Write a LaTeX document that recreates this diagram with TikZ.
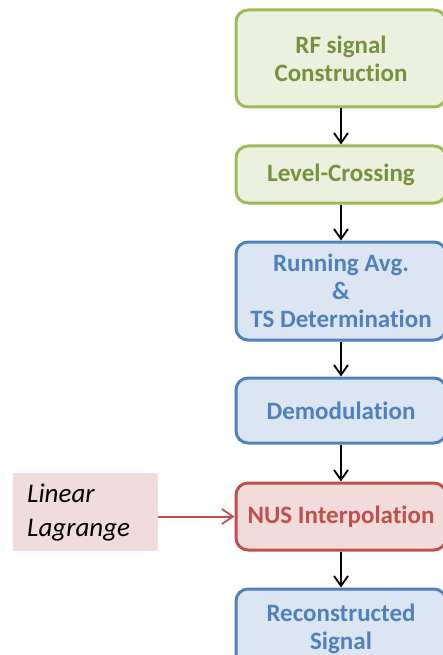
\documentclass[tikz,border=0pt]{standalone}
\usepackage{fontspec}
\setmainfont{Carlito}[Ligatures=NoCommon]
\usetikzlibrary{arrows.meta}
\definecolor{gbord}{HTML}{9BBB59}
\definecolor{gfill}{HTML}{EBF1DE}
\definecolor{gtext}{HTML}{76923C}
\definecolor{bbord}{HTML}{4F81BD}
\definecolor{bfill}{HTML}{DCE6F2}
\definecolor{btext}{HTML}{4F81BD}
\definecolor{rbord}{HTML}{C0504D}
\definecolor{rfill}{HTML}{F2DCDB}
\definecolor{rtext}{HTML}{C0504D}
\begin{document}
\begin{tikzpicture}[x=1pt,y=-1pt,
  box/.style={draw,line width=3pt,rounded corners=12pt,align=center,
    font=\fontsize{25}{28}\selectfont\bfseries,inner sep=0pt},
  gbox/.style={box,draw=gbord,fill=gfill,text=gtext},
  bbox/.style={box,draw=bbord,fill=bfill,text=btext},
  rbox/.style={box,draw=rbord,fill=rfill,text=rtext},
  arr/.style={-{Straight Barb[length=10pt,width=14pt,line width=1.8pt]},line width=2.2pt,black},
  rarr/.style={-{Straight Barb[length=11pt,width=15pt,line width=1.8pt]},line width=2pt,rbord}]
\useasboundingbox (0,0) rectangle (443,655);
\node[gbox,minimum width=210pt,minimum height=97pt] (b1) at (341,58.5) {RF signal\\Construction};
\node[gbox,minimum width=210pt,minimum height=57pt] (b2) at (341,174.5) {Level-Crossing};
\node[bbox,minimum width=210pt,minimum height=98pt] (b3) at (341,291) {Running Avg.\\\&\\TS Determination};
\node[bbox,minimum width=210pt,minimum height=65pt] (b4) at (341,410.5) {Demodulation};
\node[rbox,minimum width=210pt,minimum height=67pt] (b5) at (341,516.5) {NUS Interpolation};
\node[bbox,minimum width=210pt,minimum height=80pt] (b6) at (341,629) {Reconstructed\\Signal};
\node[fill=rfill,minimum width=145pt,minimum height=78pt,inner sep=0pt,anchor=north west] (ll) at (13,473) {};
\node[font=\fontsize{27}{34}\selectfont\itshape,text=black,align=left,anchor=west,inner sep=0pt]
  (lt) at ([xshift=14pt]ll.west) {Linear\\Lagrange};
\draw[arr] (b1) -- (b2);
\draw[arr] (b2) -- (b3);
\draw[arr] (b3) -- (b4);
\draw[arr] (b4) -- (b5);
\draw[arr] (b5) -- (b6);
\draw[rarr] (ll.east |- b5.west) -- (b5.west);
\end{tikzpicture}
\end{document}
